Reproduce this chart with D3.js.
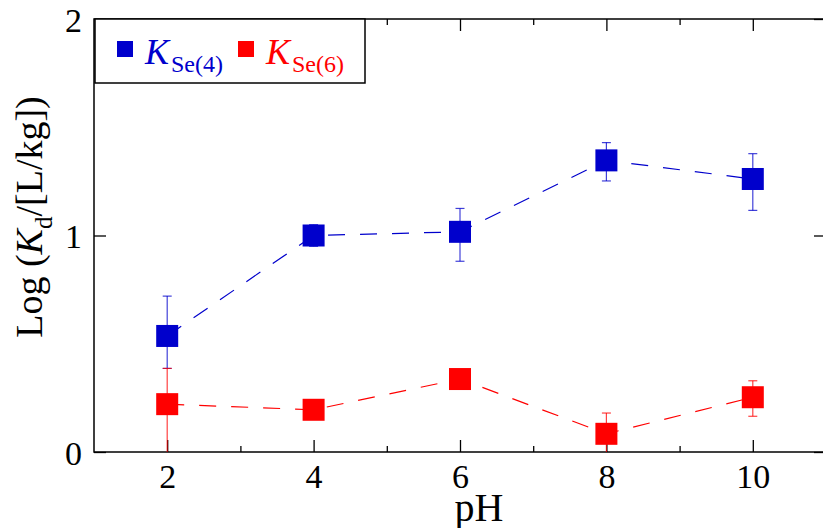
<!DOCTYPE html>
<html>
<head>
<meta charset="utf-8">
<script src="https://cdn.jsdelivr.net/npm/d3@7"></script>
<style>
  body { margin: 0; background: #fff; }
  svg { display: block; font-family: "Liberation Serif", "Times New Roman", serif; }
</style>
</head>
<body>
<script>
// values
const phValues = [2, 4, 6, 8, 10];
const kSe4 = [0.536, 1.0, 1.017, 1.347, 1.261];
const kSe4Lo = [0.386, 0.95, 0.881, 1.252, 1.116];
const kSe4Hi = [0.72, 1.05, 1.125, 1.429, 1.378];
const kSe6 = [0.221, 0.195, 0.337, 0.084, 0.253];
const kSe6Lo = [-0.1, 0.17, 0.31, -0.05, 0.165];
const kSe6Hi = [0.386, 0.22, 0.36, 0.18, 0.329];
const xMajorTicks = [2, 4, 6, 8, 10];
const xMinorTicks = [3, 5, 7, 9];
const yTicks = [0, 1, 2];
const seriesNames = ['Se(4)', 'Se(6)'];
const seriesColors = ['#0000cc', '#ff0000'];

const chart = () => {
  const svgW = 823;
  const svgH = 528;
  const plot = { left: 94, right: 826, top: 19, bottom: 452 };
  const mSize = 22;

  const x = d3.scaleLinear().domain([1, 11]).range([plot.left, plot.right]);
  const y = d3.scaleLinear().domain([0, 2]).range([plot.bottom, plot.top]);

  const svg = d3.select('body')
    .append('svg')
    .attr('width', svgW)
    .attr('height', svgH);

  // Frame axes, ticks pointing inward
  const axisStyle = g => {
    g.select('.domain').remove();
    g.selectAll('.tick line').attr('stroke', '#000').attr('stroke-width', 1.3);
  };

  svg.append('g')
    .attr('transform', `translate(0,${plot.bottom})`)
    .call(d3.axisBottom(x).tickValues(xMajorTicks).tickSize(-12).tickFormat(d3.format('d')))
    .call(axisStyle)
    .call(g => g.selectAll('text')
      .attr('y', 36).attr('dy', 0)
      .attr('font-size', 34).attr('font-family', 'Liberation Serif').attr('fill', '#000'));

  svg.append('g')
    .attr('transform', `translate(0,${plot.bottom})`)
    .call(d3.axisBottom(x).tickValues(xMinorTicks).tickSize(-6).tickFormat(''))
    .call(axisStyle);

  svg.append('g')
    .attr('transform', `translate(0,${plot.top})`)
    .call(d3.axisTop(x).tickValues(xMajorTicks).tickSize(-12).tickFormat(''))
    .call(axisStyle);

  svg.append('g')
    .attr('transform', `translate(0,${plot.top})`)
    .call(d3.axisTop(x).tickValues(xMinorTicks).tickSize(-6).tickFormat(''))
    .call(axisStyle);

  svg.append('g')
    .attr('transform', `translate(${plot.left},0)`)
    .call(d3.axisLeft(y).tickValues(yTicks).tickSize(-12).tickPadding(12).tickFormat(d3.format('d')))
    .call(axisStyle)
    .call(g => g.selectAll('text')
      .attr('dy', '0.36em')
      .attr('font-size', 34).attr('font-family', 'Liberation Serif').attr('fill', '#000'));

  svg.append('g')
    .attr('transform', `translate(${plot.right},0)`)
    .call(d3.axisRight(y).tickValues(yTicks).tickSize(-12).tickFormat(''))
    .call(axisStyle);

  svg.append('rect')
    .attr('x', plot.left)
    .attr('y', plot.top)
    .attr('width', plot.right - plot.left)
    .attr('height', plot.bottom - plot.top)
    .attr('fill', 'none')
    .attr('stroke', '#000')
    .attr('stroke-width', 1.5);

  // Series: dashed line, error bars, square markers
  const series = [kSe4, kSe6].map((vals, i) => ({
    name: seriesNames[i],
    color: seriesColors[i],
    pts: phValues.map((p, j) => ({
      ph: p,
      v: vals[j],
      lo: [kSe4Lo, kSe6Lo][i][j],
      hi: [kSe4Hi, kSe6Hi][i][j],
    })),
  }));

  const line = d3.line().x(d => x(d.ph)).y(d => y(d.v));

  const sg = svg.selectAll('g.series')
    .data(series)
    .enter()
    .append('g')
    .attr('class', 'series');

  sg.append('path')
    .attr('d', d => line(d.pts))
    .attr('fill', 'none')
    .attr('stroke', d => d.color)
    .attr('stroke-width', 1.2)
    .attr('stroke-dasharray', '17,15');

  const eb = sg.selectAll('g.err')
    .data(d => d.pts.map(p => ({ ...p, color: d.color })))
    .enter()
    .append('g')
    .attr('class', 'err')
    .attr('stroke', d => d.color)
    .attr('stroke-width', 1.2)
    .attr('stroke-opacity', 0.75);

  eb.append('line')
    .attr('x1', d => x(d.ph)).attr('x2', d => x(d.ph))
    .attr('y1', d => y(d.hi)).attr('y2', d => y(Math.max(0, d.lo)));
  eb.append('line')
    .attr('x1', d => x(d.ph) - 4.5).attr('x2', d => x(d.ph) + 4.5)
    .attr('y1', d => y(d.hi)).attr('y2', d => y(d.hi));
  // lower caps below the axis are clipped
  eb.filter(d => d.lo > 0)
    .append('line')
    .attr('x1', d => x(d.ph) - 4.5).attr('x2', d => x(d.ph) + 4.5)
    .attr('y1', d => y(d.lo)).attr('y2', d => y(d.lo));

  sg.selectAll('rect')
    .data(d => d.pts.map(p => ({ ...p, color: d.color })))
    .enter()
    .append('rect')
    .attr('x', d => x(d.ph) - mSize / 2)
    .attr('y', d => y(d.v) - mSize / 2)
    .attr('width', mSize)
    .attr('height', mSize)
    .attr('fill', d => d.color);

  // Legend
  const lg = svg.append('g');
  lg.append('rect')
    .attr('x', 95).attr('y', 19)
    .attr('width', 270).attr('height', 64)
    .attr('fill', '#fff')
    .attr('stroke', '#000')
    .attr('stroke-width', 1.5);

  const legendX = [117, 238];
  series.forEach((s, i) => {
    lg.append('rect')
      .attr('x', legendX[i]).attr('y', 41)
      .attr('width', 16).attr('height', 16)
      .attr('fill', s.color);
    const t = lg.append('text')
      .attr('x', legendX[i] + 28).attr('y', 64)
      .attr('fill', s.color);
    t.append('tspan').attr('font-size', 36).attr('font-style', 'italic').text('K');
    t.append('tspan').attr('font-size', 24).attr('dx', 2).attr('dy', 8).text(s.name);
  });

  // Axis titles
  svg.append('text')
    .attr('x', 479).attr('y', 521)
    .attr('text-anchor', 'middle')
    .attr('font-size', 40)
    .text('pH');

  const yt = svg.append('text')
    .attr('transform', 'translate(42,217) rotate(-90)')
    .attr('text-anchor', 'middle')
    .attr('font-size', 38);
  yt.append('tspan').text('Log (');
  yt.append('tspan').attr('font-style', 'italic').text('K');
  yt.append('tspan').attr('font-size', 25).attr('dy', 10).text('d');
  yt.append('tspan').attr('dy', -10).text('/[L/kg])');
};
chart();
</script>
</body>
</html>
